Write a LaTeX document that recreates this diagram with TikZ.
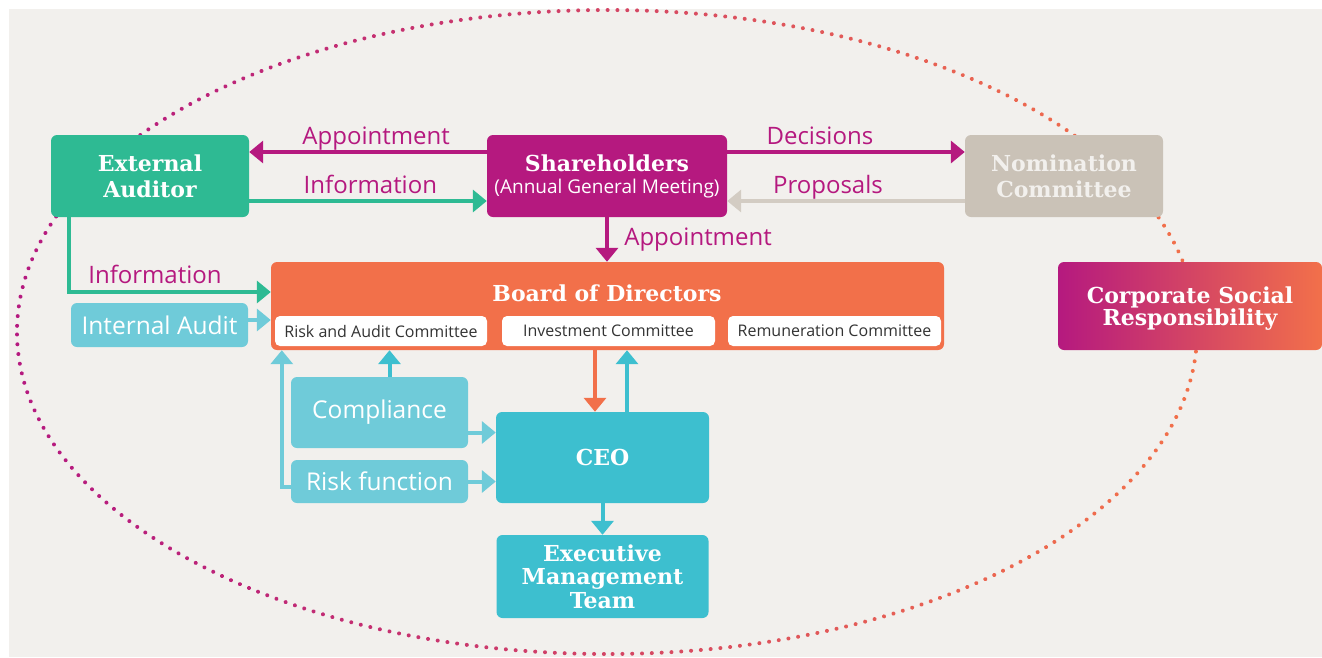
\documentclass[tikz,border=0pt]{standalone}
\usepackage{fontspec}
\setmainfont{Open Sans}
\newfontfamily\headfont{DejaVu Serif}
\usetikzlibrary{arrows.meta,decorations.markings}

\definecolor{shmag}{HTML}{B5197F}
\definecolor{audgreen}{HTML}{2EBA93}
\definecolor{nomgray}{HTML}{CAC2B7}
\definecolor{propgray}{HTML}{D3CCC3}
\definecolor{boardor}{HTML}{F2704A}
\definecolor{ltcyan}{HTML}{6FCBD9}
\definecolor{ceocyan}{HTML}{3DBFCF}
\definecolor{bggray}{HTML}{F2F0ED}
\definecolor{comtext}{HTML}{333333}

\begin{document}
\begin{tikzpicture}[x=1pt, y=-1pt]
    \tikzset{ block/.style={rectangle, rounded corners=6pt, inner sep=0pt, align=center, text=white},
            head/.style={font=\headfont\bfseries\fontsize{22}{26}\selectfont},
            plain/.style={font=\fontsize{24.5}{28}\selectfont},
            committee/.style={rectangle, rounded corners=5pt, fill=white, inner sep=0pt, minimum width=212pt, minimum height=30pt, text=comtext, font=\fontsize{16}{18}\selectfont},
            tag/.style={font=\fontsize{24}{28}\selectfont, text=shmag, text height=17pt, text depth=5pt},
            arrow/.style={-{Triangle[length=14pt,width=22pt]}, line width=4pt}}

    % fond et cadre
    \fill[white] (0,0) rectangle (1322,657);
    \fill[bggray] (9,9) rectangle (1322,657);
    \useasboundingbox (0,0) rectangle (1322,657);

    % ellipse en pointilles
    \path[decorate, decoration={markings, mark=between positions 0 and 1 step 9.8pt with {
            \pgfmathsetmacro\dotfrac{\pgfkeysvalueof{/pgf/decoration/mark info/distance from start}/\pgfdecoratedpathlength}
            \pgfmathsetmacro\dotmix{50*(1+cos(360*\dotfrac))}
            \fill[color=boardor!\dotmix!shmag] (0,0) circle (2pt);}}]
        (607,332) ellipse [x radius=590, y radius=322];

    \node[block, fill=audgreen, minimum width=198pt, minimum height=82pt, head] (extaud) at (150,176) {External\\Auditor};
    \node[block, fill=shmag, minimum width=240pt, minimum height=82pt, font=\fontsize{19}{22}\selectfont] (share) at (607,176)
        {{\headfont\bfseries\fontsize{22}{24}\selectfont Shareholders}\\(Annual General Meeting)};
    \node[block, fill=nomgray, minimum width=198pt, minimum height=82pt, head, text=bggray] (nomin) at (1064,176) {Nomination\\Committee};

    \node[block, fill=boardor, minimum width=673pt, minimum height=88pt] (board) at (607.5,306) {};
    \node[head, text=white] (boardtitle) at (607,293) {Board of Directors};
    \node[committee] (riskcom) at (381,331) {Risk and Audit Committee};
    \node[committee, minimum width=213pt] (invcom) at (608.5,331) {Investment Committee};
    \node[committee, minimum width=213pt] (remcom) at (834.5,331) {Remuneration Committee};

    \node[block, fill=ltcyan, minimum width=177pt, minimum height=44pt, plain] (intaud) at (159.5,325) {Internal Audit};
    \node[block, fill=ltcyan, minimum width=177pt, minimum height=71pt, plain] (compl) at (379.5,412.5) {Compliance};
    \node[block, fill=ltcyan, minimum width=177pt, minimum height=43pt, plain] (riskfn) at (379.5,481.5) {Risk function};
    \node[block, fill=ceocyan, minimum width=213pt, minimum height=91pt, head] (ceo) at (602.5,457.5) {CEO};
    \node[block, fill=ceocyan, minimum width=212pt, minimum height=83pt, head, font=\headfont\bfseries\fontsize{22}{23.5}\selectfont] (exec) at (602.5,576.5) {Executive\\Management\\Team};

    \node[block, left color=shmag, right color=boardor, minimum width=264pt, minimum height=88pt] (csr) at (1190,306) {};
    \node[head, text=white, align=center, font=\headfont\bfseries\fontsize{22}{22}\selectfont] (csrtitle) at (1190,309) {Corporate Social\\Responsibility};

    % Fleches
    \draw[arrow, shmag] ([yshift=24pt]share.west) -- node[tag, pos=0.466, above=-3pt] {Appointment} ([yshift=24pt]extaud.east);
    \draw[arrow, audgreen] ([yshift=-25pt]extaud.east) -- node[tag, pos=0.51, above=-3pt] {Information} ([yshift=-25pt]share.west);
    \draw[arrow, shmag] ([yshift=24pt]share.east) -- node[tag, pos=0.39, above=-3pt] {Decisions} ([yshift=24pt]nomin.west);
    \draw[arrow, propgray] ([yshift=-25pt]nomin.west) -- node[tag, pos=0.576, above=-3pt] {Proposals} ([yshift=-25pt]share.east);
    \draw[arrow, shmag] (share.south) -- node[tag, midway, right=12pt] {Appointment} (share.south |- board.north);
    \draw[arrow, audgreen] ([xshift=-81pt]extaud.south) |- node[tag, pos=0.713, above=-2pt] {Information} ([yshift=14pt]board.west);

    \draw[arrow, ltcyan] ([yshift=5pt]intaud.east) -- ([yshift=5pt]intaud.east -| board.west);
    \draw[arrow, ceocyan] ([xshift=10pt]compl.north) -- ([xshift=10pt]compl.north |- board.south);
    \draw[arrow, ltcyan] ([yshift=-5pt]riskfn.west) -| ([xshift=11pt]board.south west);
    \draw[arrow, ltcyan] ([yshift=-20pt]compl.east) -- ([yshift=-20pt]compl.east -| ceo.west);
    \draw[arrow, ltcyan] (riskfn.east) -- (riskfn.east -| ceo.west);
    \draw[arrow, boardor] ([xshift=-7.5pt]ceo.north |- board.south) -- ([xshift=-7.5pt]ceo.north);
    \draw[arrow, ceocyan] ([xshift=24.5pt]ceo.north) -- ([xshift=24.5pt]ceo.north |- board.south);
    \draw[arrow, ceocyan] (ceo.south) -- (exec.north);

\end{tikzpicture}
\end{document}
